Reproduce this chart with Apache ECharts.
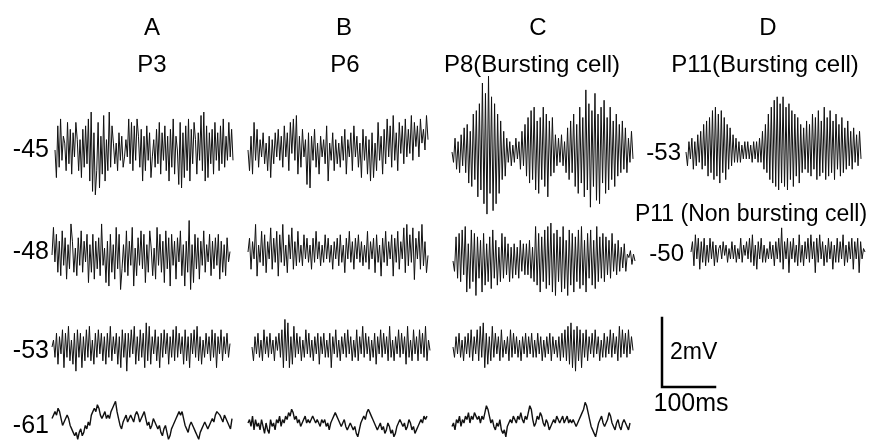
<!DOCTYPE html>
<html>
<head>
<meta charset="utf-8">
<script src="https://cdn.jsdelivr.net/npm/echarts@6/dist/echarts.min.js"></script>
<style>
  html, body { margin: 0; padding: 0; background: #fff; }
  #chart { width: 879px; height: 442px; }
</style>
</head>
<body>
<div id="chart"></div>
<script>
// Membrane potential traces, samples in units of 0.1 mV around the holding level.
const SWEEP_MS = 336;

// Column A (P3)
const a45 = [0,-8,7,-5,9,-3,4,2,-6,8,-4,6, -7,5,-2,8,3,-6,3,-8,6,-5,7, -4,9,-9,11,-12,5,-13,-6, 8,-11,4,-7,10,-9,3,-6,
  11,-5,7,2,-4,2,-6,5,-3,4,-5,-2, 3,-2,9,-4,8,-6,7,-3,9,4,-5, 6,-9,4,-6,7,-3,5,-8,-2,3,-5, 6,-4,8,-7,5,-3,7,-6,4,-9,
  6,-5,9,-7,4,0,-10,8,-11,5,-8, 7,-6,9,-9,6,-4,8,3,-7,5,-3, 10,-6,11,-9,7,-8,5,-4,6,-7, 8,-3,5,-6,7,-4,9,-5,4,-3,8,-2,6,-3];
const a48 = [0,8,-2,6,-5,4,-6,7,-3,5, -7,3,-4,9,4,-5,2,-6,5,-3,7, -5,4,-2,6,-8,3,-5,6,-7,4, -4,5,-6,9,-3,2,-8,4,-9,6,
  -5,3,-7,8,-4,6,-10,-4,3,-5,7, -6,4,-3,8,-9,2,-6,5,-3,7, -4,6,-8,3,-5,7,2,-6,2,-7,8, -3,6,-5,4,-8,7,-4,5,-9,6,
  -3,4,-7,5,-2,7,-6,3,-9,4, -5,10,-10,3,-8,6,-4,5,-7,4, -3,7,-5,3,-2,6,-6,4,-4,5, -3,6,-7,4,-5,3,-6,5,-2,1];
const a53 = [0,2,-3,4,-5,3,-2,5,-6,4, -3,6,-4,2,-5,4,-7,5,-3,4, -6,3,-4,5,-3,6,-4,2,-5,4, -3,5,-2,4,-4,3,-5,4,-3,6,
  -4,3,-2,4,-5,3,-6,5,-3,4, -7,4,-3,5,-2,6,-5,3,-4,5, -3,4,-6,7,-4,6,-5,3,-2,5, -4,3,-6,4,-3,5,-2,4,-5,3,
  -3,5,-4,6,-3,4,-2,3,-5,5, -4,3,-6,4,-2,5,-3,6,-4,3, -5,2,-3,4,-2,3,-4,5,-3,4, -6,3,-2,5,-4,3,-2,4,-3,1];
const a61 = [1,2,3,2,4,3,1,-1,0,1, 2,1,-1,-2,-3,-4,-3,-5,-3,-2, -4,-3,-1,-2,0,-1,2,3,4,3, 5,4,2,1,2,3,1,2,1,3,
  4,5,6,3,1,-1,-2,0,1,2, 0,1,2,1,0,2,3,2,0,1, 2,3,1,-1,0,-2,-1,1,0,-1, -2,-1,-3,-4,-2,-1,-3,-5,-4,-2,
  -1,0,1,2,3,2,3,1,-1,-2, -3,-1,0,-1,-2,-3,-4,-5,-3,-2, -1,0,-1,-2,-1,0,1,0,2,3, 3,2,1,0,2,1,0,-1,-2,1];

// Column B (P6)
const b45 = [0,-6,4,-7,8,-3,6,-5,3,-2, 5,-4,2,-6,4,-8,3,-4,5,-2, 6,-3,4,-5,7,-2,5,-6,8,-1, 9,-3,10,-7,4,-5,6,-2,3,-10,
  5,-11,4,-3,6,-5,2,-7,4,-2, 3,-4,7,-9,2,-3,5,-6,3,-4, 2,-5,4,-3,6,-7,3,-2,5,-6, 7,-2,4,-5,2,-8,6,-3,4,-7,
  3,-9,5,-8,2,-6,8,-3,4,-7, 6,-4,9,-2,7,-5,10,-3,5,-6, 8,-1,7,-4,9,-2,6,-1,10,-3, 8,1,7,-2,9,2,6,0,10,3];
const b48 = [0,4,-5,3,-2,8,-7,2,-3,6, -4,5,-6,3,-2,7,-5,4,-3,6, -7,5,-3,8,-4,2,-6,5,-2,7, -5,3,-4,6,-3,2,-4,5,-2,4,
  -3,2,-5,4,-3,6,-2,3,-4,2, -3,5,-2,4,-3,2,-5,3,-2,4, -4,5,-3,2,-6,4,-2,6,-3,3, -5,4,-2,5,-3,3,-4,2,-3,6,
  -5,3,-2,4,-6,5,-3,2,-7,4, -3,6,-4,3,-2,5,-7,4,-3,6, -5,3,-2,7,-6,8,-4,5,-3,7, -8,4,-2,6,-5,8,-4,3,-6,-1];
const b53 = [0,-4,3,-2,4,-3,2,-4,5,-2, 3,-3,4,-2,2,-4,3,-1,4,-3, 5,-6,8,-4,7,-6,3,-5,6,-3, 4,-2,3,-4,2,-3,5,-2,4,-3,
  2,-4,3,-2,4,-5,3,-2,4,-3, 2,-3,4,-6,3,-2,5,-3,2,-4, 3,-2,4,-3,5,-2,3,-4,2,-3, 5,-4,3,-2,6,-3,4,-2,3,-4,
  2,-3,4,-5,3,-2,5,-3,4,-2, 3,-4,6,-3,2,-4,3,-2,5,-3, 4,-2,3,-5,6,-3,2,-4,5,-2, 3,-4,5,-2,4,-3,6,-4,2,-1];
const b61 = [0,1,-1,2,-2,1,-1,0,-2,1, -1,-3,0,-2,-3,1,-1,0,-2,1, 0,2,-1,1,0,2,1,3,2,4, 3,1,2,0,1,-1,0,1,2,0,
  1,0,1,2,1,0,1,0,-1,1, 0,1,-1,0,-2,0,1,2,3,2, 1,0,-1,0,1,-1,-2,-1,0,-1, -2,-1,-3,-4,-2,0,1,2,1,3,
  4,3,2,1,0,-1,-2,-1,0,-2, -1,-3,-2,0,-1,-3,-2,-4,-3,-1, 0,1,0,-1,0,-2,-1,1,0,-2, -1,-3,-2,-1,0,1,0,2,1,2];

// Column C (P8, bursting cell)
const c45 = [0,-3,4,-5,3,-6,5,-4,7,-6, 8,-9,6,-10,11,-8,12,-13,14,-11, 20,-15,17,-18,22,-12,16,-17,14,-15,
  11,-12,9,-8,6,-7,4,-3,3,-4, 2,-3,4,-2,3,-5,6,-4,8,-7, 10,-9,12,-8,13,-11,9,-12,10,-8, 13,-10,11,-13,9,-7,10,-6,5,-4,
  4,-3,5,-4,3,-6,7,-8,9,-6, 11,-10,8,-12,13,-9,10,-13,18,-11, 14,-16,12,-10,17,-14,11,-15,13,-9,
  15,-12,10,-11,13,-8,9,-10,11,-7, 8,-6,9,-5,7,-6,4,-3,6,-2];
const c48 = [0,-3,7,-5,8,-6,9,-4,10,-9, 5,-8,9,-6,8,-10,7,-5,6,-9, 8,-7,5,-6,7,-8,9,-5,6,-7, 4,-6,8,-5,7,-4,5,-6,4,-5,
  5,-4,4,-5,6,-3,5,-4,5,-4, 6,-5,4,-6,10,-7,8,-9,7,-6, 9,-8,10,-7,11,-9,8,-10,9,-6, 7,-9,10,-8,6,-10,9,-7,8,-9,
  7,-6,9,-8,10,-7,6,-9,8,-5, 9,-7,6,-8,10,-6,7,-5,8,-6, 7,-4,6,-5,8,-3,5,-4,6,-3, 4,-2,5,-3,2,1,3,-1,2,0];
const c53 = [0,-3,3,-2,4,-3,2,-4,3,-2, 4,-3,5,-4,3,-2,5,-4,6,-3, 7,-6,4,-5,3,-4,6,-3,4,-2, 3,-4,5,-3,2,-2,3,-4,5,-3,
  4,-2,3,-3,2,-4,3,-2,4,-3, 3,-2,4,-3,2,-3,4,-2,3,-4, 2,-3,3,-2,4,-4,3,-2,2,-3, 3,-4,4,-3,5,-4,6,-5,7,-6,
  5,-7,6,-4,5,-6,4,-3,5,-4, 3,-2,4,-3,5,-2,3,-4,2,-3, 4,-3,3,-2,5,-3,4,-2,3,-4, 6,-3,5,-2,4,-3,5,-2,3,-1];
const c61 = [-1,0,-2,1,0,2,-1,1,0,2, 1,3,0,2,1,3,2,1,2,0, 2,1,3,5,4,2,0,1,-1,-2, 0,-1,1,-2,-3,-2,-4,-1,0,1,
  0,2,1,0,2,1,3,1,0,2, 1,3,5,4,1,-1,0,2,1,3, 2,0,-1,1,0,-2,-1,0,1,0, 2,1,0,1,2,0,1,2,0,1,
  0,1,0,-1,0,1,2,3,4,6, 5,3,1,-1,-2,-3,-4,-2,0,1, 2,0,-1,0,1,3,2,0,-1,-2, 0,1,-1,-2,0,1,0,-1,-2,0];

// Column D (P11)
const d53 = [0,-4,3,-2,4,-5,3,-4,5,-3, 6,-5,8,-4,9,-7,10,-6,12,-8, 13,-7,11,-9,12,-6,10,-8,8,-5, 7,-4,5,-3,4,-3,3,-3,2,-2,
  3,-2,3,-2,2,-3,3,-2,3,-3, 4,-3,6,-5,8,-6,11,-8,13,-9, 15,-10,16,-11,14,-9,16,-10,13,-11, 14,-8,12,-10,11,-7,10,-9,8,-6,
  7,-5,9,-6,8,-7,11,-5,10,-8, 12,-7,9,-6,13,-8,10,-7,12,-6, 9,-8,11,-5,8,-7,10,-6,7,-5, 9,-4,6,-5,7,-3,5,-4,6,-2];
const d50 = [0,3,-4,5,-2,4,-5,3,-3,4, -4,2,-3,4,-2,3,-4,2,-3,1, 2,-2,3,-1,2,-3,1,-2,3,-2, 2,-3,1,-2,4,-3,2,-1,3,-2,
  4,-3,5,-4,2,-5,3,-2,4,-3, 2,-3,1,-2,3,-2,2,-4,3,-2, 4,-3,7,-5,3,-2,4,-6,3,-2, 4,-3,2,-4,5,-3,2,-4,3,-2,
  4,-3,5,-2,3,-6,4,-3,5,-2, 3,-4,2,-3,4,-2,3,-5,2,-3, 4,-3,3,-2,5,-4,2,-3,3,-2, 4,-5,3,-2,4,-6,3,-2,1,0];

// Scale bar: 100 ms by 2 mV
const scaleBarMs = [0, 0, 100];
const scaleBarMv = [2, 0, 0];

// Row and column labels
const columnLetters = ['A', 'B', 'C', 'D'];
const ageLabels = ['P3', 'P6', 'P8(Bursting cell)', 'P11(Bursting cell)'];
const holdingLabels = ['-45', '-48', '-53', '-61'];
const nonBurstingLabel = 'P11 (Non bursting cell)';
const dHoldingLabels = ['-53', '-50'];
const scaleLabels = ['2mV', '100ms'];

// Layout: each trace gets a thin grid centred on its baseline; lines overflow it freely.
const PX_PER_MV = 34.5;
const HALF_H = 15;
const panels = [
  { data: a45, left: 55,  width: 178, cy: 150, lw: 1 },
  { data: b45, left: 248, width: 180, cy: 150, lw: 1 },
  { data: c45, left: 452, width: 181, cy: 152, lw: 1 },
  { data: d53, left: 686, width: 175, cy: 152, lw: 1 },
  { data: a48, left: 52,  width: 178, cy: 255, lw: 1 },
  { data: b48, left: 248, width: 180, cy: 252, lw: 1 },
  { data: c48, left: 453, width: 182, cy: 261, lw: 1 },
  { data: d50, left: 691, width: 174, cy: 252, lw: 1 },
  { data: a53, left: 52,  width: 178, cy: 347, lw: 1 },
  { data: b53, left: 252, width: 178, cy: 347, lw: 1 },
  { data: c53, left: 453, width: 180, cy: 347, lw: 1 },
  { data: a61, left: 52,  width: 180, cy: 422, lw: 1.4 },
  { data: b61, left: 248, width: 179, cy: 423, lw: 1.4 },
  { data: c61, left: 452, width: 178, cy: 423, lw: 1.4 }
];

const FONT = '"Liberation Sans", Arial, Helvetica, sans-serif';
const grids = [], xAxes = [], yAxes = [], series = [];

panels.forEach((p, i) => {
  grids.push({ left: p.left, width: p.width, top: p.cy - HALF_H, height: 2 * HALF_H });
  xAxes.push({ type: 'value', gridIndex: i, min: 0, max: SWEEP_MS, show: false });
  yAxes.push({ type: 'value', gridIndex: i, min: -HALF_H / PX_PER_MV, max: HALF_H / PX_PER_MV, show: false });
  const n = p.data.length;
  series.push({
    type: 'line', xAxisIndex: i, yAxisIndex: i, showSymbol: false, silent: true, clip: false,
    lineStyle: { color: '#111', width: p.lw },
    data: p.data.map((v, k) => [k * SWEEP_MS / (n - 1), v / 10])
  });
});

// Calibration bar grid: same ms/px and mV/px as the traces
const sb = panels.length;
grids.push({ left: 662, top: 318, width: 53, height: 2 * PX_PER_MV });
xAxes.push({ type: 'value', gridIndex: sb, min: 0, max: 100, show: false });
yAxes.push({ type: 'value', gridIndex: sb, min: 0, max: 2, show: false });
series.push({
  type: 'line', xAxisIndex: sb, yAxisIndex: sb, showSymbol: false, silent: true, clip: false,
  lineStyle: { color: '#000', width: 2.5, cap: 'square', join: 'miter' },
  data: scaleBarMs.map((t, k) => [t, scaleBarMv[k]])
});

function txt(text, x, y, size, align) {
  return {
    type: 'text', x: x, y: y, silent: true,
    style: { text: text, font: size + 'px ' + FONT, fill: '#000', textAlign: align || 'center', textVerticalAlign: 'middle' }
  };
}

const letterX = [152, 344, 538, 768];
const ageX = [152, 345, 532, 765];
const holdingY = [150, 252, 351, 426];
const graphics = [];
columnLetters.forEach((t, i) => graphics.push(txt(t, letterX[i], 28, 24)));
ageLabels.forEach((t, i) => graphics.push(txt(t, ageX[i], 65, 24)));
holdingLabels.forEach((t, i) => graphics.push(txt(t, 49, holdingY[i], 25, 'right')));
graphics.push(txt(nonBurstingLabel, 751, 215, 23));
graphics.push(txt(dHoldingLabels[0], 681, 153, 24, 'right'));
graphics.push(txt(dHoldingLabels[1], 684, 254, 24, 'right'));
graphics.push(txt(scaleLabels[0], 670, 353, 23, 'left'));
graphics.push(txt(scaleLabels[1], 691, 404, 25));

const chart = echarts.init(document.getElementById('chart'), null, { renderer: 'canvas' });
chart.setOption({
  animation: false,
  backgroundColor: '#fff',
  grid: grids,
  xAxis: xAxes,
  yAxis: yAxes,
  series: series,
  graphic: graphics
});
</script>
</body>
</html>
